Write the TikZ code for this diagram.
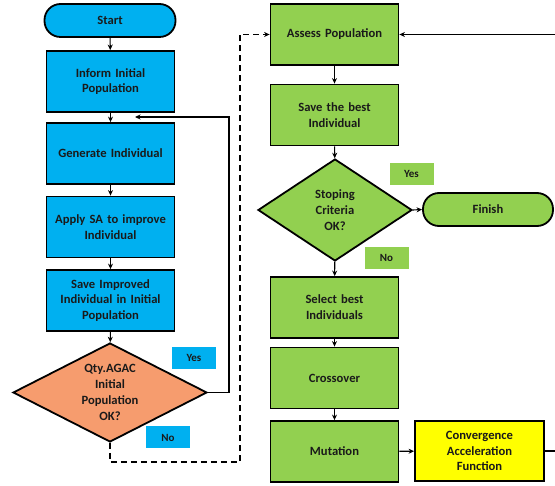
\documentclass[tikz,border=0pt]{standalone}
\usepackage{fontspec}
\setmainfont{Carlito}
\usetikzlibrary{shapes.geometric,arrows.meta}
\definecolor{cblue}{HTML}{00B0F0}
\definecolor{cgreen}{HTML}{92D050}
\definecolor{corange}{HTML}{F69C6E}
\definecolor{cyellow}{HTML}{FFFF00}
\definecolor{ctext}{HTML}{1A1A1A}
\begin{document}
\begin{tikzpicture}[x=1pt,y=-1pt,
  txt/.style={text=ctext, font=\bfseries\fontsize{12.6}{15.8}\selectfont, align=center},
  box/.style={txt, draw=black, line width=1.8pt, minimum width=128pt, minimum height=61pt, inner sep=2pt, text width=122pt},
  term/.style={txt, draw=black, line width=1.8pt, rounded corners=16pt, minimum width=131pt, minimum height=33pt, inner sep=2pt},
  dia/.style={draw=black, line width=1.8pt, diamond, inner sep=0pt},
  lab/.style={text=ctext, font=\bfseries\fontsize{11}{12}\selectfont, minimum width=44pt, minimum height=22pt, inner sep=0pt},
  conn/.style={draw=black, line width=1.1pt, -{Stealth[length=5.5pt,width=5pt]}},
  dconn/.style={conn, line width=1.5pt, dash pattern=on 6pt off 4pt}
]
\useasboundingbox (0,0) rectangle (555,486);
\clip (0,0) rectangle (555,486);
\fill[white] (0,0) rectangle (555,486);

% left column
\node[term, fill=cblue] (start) at (110,20.5) {Start};
\node[box, fill=cblue] (inform) at (110.5,81.5) {Inform Initial\\Population};
\node[box, fill=cblue] (gen) at (110.5,153.5) {Generate Individual};
\node[box, fill=cblue] (apply) at (110.5,227) {Apply SA to improve\\Individual};
\node[box, fill=cblue] (saveimp) at (110.5,300.5) {Save Improved\\Individual in Initial\\Population};
\node[dia, fill=corange, minimum width=194pt, minimum height=99pt] (qty) at (110,392.5) {};
\node[txt] (qtyt) at (qty.center) {Qty.AGAC\\Initial\\Population\\OK?};
\node[lab, fill=cblue] (yes1) at (194,358) {Yes};
\node[lab, fill=cblue] (no1) at (168,437.5) {No};

% right column
\node[box, fill=cgreen] (assess) at (334.5,34.5) {Assess Population};
\node[box, fill=cgreen] (savebest) at (334.5,115) {Save the best\\Individual};
\node[dia, fill=cgreen, minimum width=154pt, minimum height=102pt] (stop) at (335,210) {};
\node[txt] (stopt) at (stop.center) {Stoping\\Criteria\\OK?};
\node[lab, fill=cgreen] (yes2) at (411.5,174) {Yes};
\node[lab, fill=cgreen] (no2) at (386.5,258) {No};
\node[term, fill=cgreen, minimum width=130pt] (finish) at (488,209.5) {Finish};
\node[box, fill=cgreen] (select) at (334.5,307.5) {Select best\\Individuals};
\node[box, fill=cgreen] (cross) at (334.5,378) {Crossover};
\node[box, fill=cgreen] (mut) at (334.5,451.5) {Mutation};
\node[box, fill=cyellow, minimum width=129pt, minimum height=60pt] (conv) at (479.5,451) {Convergence\\Acceleration\\Function};

% connectors left
\draw[conn] (start) -- (inform);
\draw[conn] (inform) -- (gen);
\draw[conn] (gen) -- (apply);
\draw[conn] (apply) -- (saveimp);
\draw[conn] (saveimp) -- (qty);
\coordinate (loopc) at (229,117);
\coordinate (loopend) at (135,117);
\draw[conn] (qty.east) -| (loopc) -- (loopend);
\coordinate (d1) at (240,462);
\draw[dconn] (qty.south) |- (d1) |- (assess.west);

% connectors right
\draw[conn] (assess) -- (savebest);
\draw[conn] (savebest) -- (stop);
\draw[conn] (stop.east) -- (finish.west);
\draw[conn] (stop) -- (select);
\draw[conn] (select) -- (cross);
\draw[conn] (cross) -- (mut);
\draw[conn] (mut) -- (conv);
\coordinate (r1) at (562,451);
\draw[conn] (conv.east) -- (r1) |- (assess.east);
\end{tikzpicture}
\end{document}
